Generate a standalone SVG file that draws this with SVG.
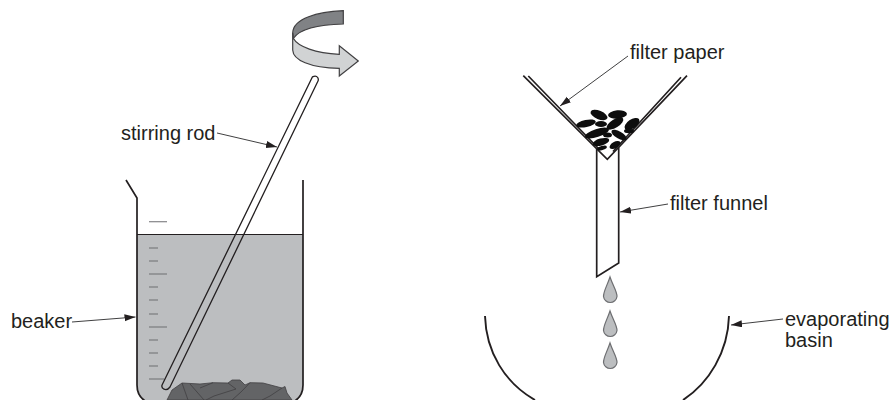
<svg xmlns="http://www.w3.org/2000/svg" width="889" height="400" viewBox="0 0 889 400">
<defs>
<marker id="ah" markerUnits="userSpaceOnUse" markerWidth="12" markerHeight="8" refX="11" refY="3.5" orient="auto"><path d="M0 0L11 3.500L0 7z" fill="#231f20"/></marker>
</defs>
<style>
text{font-family:"Liberation Sans",Arial,sans-serif;font-size:20px;fill:#231f20}
.ln{fill:none;stroke:#231f20;stroke-width:1.7}
.rodline{fill:none;stroke:#231f20;stroke-width:1.3}
.thin{fill:none;stroke:#231f20;stroke-width:1.2}
.basin{fill:none;stroke:#231f20;stroke-width:1.9}
.lead{fill:none;stroke:#404041;stroke-width:1;marker-end:url(#ah)}
.tick{stroke:#6d6e71;stroke-width:1.1;fill:none}
.rock{fill:#636466;stroke:#414042;stroke-width:.8}
.crack{fill:none;stroke:#414042;stroke-width:.8}
.seed{fill:#0d0d0d}
.drop{fill:#bcbec0;stroke:#6d6e71;stroke-width:1.2}
.dark{fill:#808285;stroke:#414042;stroke-width:1.2}
.light{fill:#d1d3d4;stroke:#414042;stroke-width:1.2}
</style>
<rect width="889" height="400" fill="#fff"/>
<g id="beaker">
<path d="M137 234.500H303V385Q303 398 291 403H149Q137 398 137 385Z" fill="#bcbec0"/>
<path class="ln" d="M126 180L137 198V385Q137 398 149 403M303 180V385Q303 398 291 403"/>
<path class="thin" d="M137 234.500H303"/>
<path class="tick" d="M149 221.700H167M149 248H158M149 261H158M149 274H167M149 287H158M149 300H158M149 314H158M149 327H167M149 340H158M149 353H158M149 366H158M149 379H164"/>
</g>
<g id="solid">
<path class="rock" d="M167 400L172 390L182 383L200 384L213 382.700L228 383L232 380L240 380L245 385L250 382.700L263 383L282 388L285 386.500L287 393L292 400Z"/>
<path class="crack" d="M182 383L188 400M190 384L204 400M213 382.700L200 388M228 383L236 389L214 396L206 400M250 382.700L241 392L232 400M282 388L270 396L262 400"/>
</g>
<g id="rod">
<path class="rodline" d="M312.500 76.800Q316 75 317.700 77.500Q318.800 79.500 318 81L170 387Q167.500 390.500 164 389.200Q160.800 387.500 162.300 384.500Z"/>
</g>
<g id="rotation-arrow">
<path class="dark" d="M343.300 10.700C318 12 293 18 292.700 33L293.300 38.300C300 29 320 24.500 343.300 24Z"/>
<path class="light" d="M292.700 33L293.300 38.300C298 47 316 53 339.300 54.300V45.700L358.300 61L339.300 76V68.300C310 68 293 60 292.700 50Z"/>
</g>
<g id="filter-funnel">
<path class="ln" d="M523.300 75.700L607.300 159.300L687 75.700"/>
<path class="ln" d="M528.300 76L600 150M681 77.300L613 151.500"/>
<path class="ln" d="M596.700 149V276.700L618.700 263V147.500"/>
</g>
<g id="residue" class="seed">
<ellipse cx="599" cy="115" rx="9" ry="4.200" transform="rotate(22 599 115)"/>
<ellipse cx="617.500" cy="114.500" rx="9.500" ry="4.200" transform="rotate(-5 617.500 114.500)"/>
<ellipse cx="586" cy="123.500" rx="10" ry="3.500" transform="rotate(-12 586 123.500)"/>
<ellipse cx="601" cy="124" rx="6" ry="3"/>
<ellipse cx="615" cy="123.500" rx="9.500" ry="4.200" transform="rotate(-32 615 123.500)"/>
<ellipse cx="632" cy="124" rx="8.500" ry="4.500" transform="rotate(-35 632 124)"/>
<ellipse cx="597" cy="133" rx="12.500" ry="4" transform="rotate(-18 597 133)"/>
<ellipse cx="607.500" cy="135" rx="4.500" ry="2.500"/>
<ellipse cx="619" cy="135" rx="8.500" ry="3.500" transform="rotate(30 619 135)"/>
<ellipse cx="629" cy="131" rx="5" ry="2.200"/>
<ellipse cx="601" cy="142" rx="8.500" ry="3.500" transform="rotate(-15 601 142)"/>
<ellipse cx="602" cy="148" rx="5" ry="2" transform="rotate(-15 602 148)"/>
<ellipse cx="615" cy="145" rx="6" ry="3.200" transform="rotate(-30 615 145)"/>
</g>
<g id="drops">
<path class="drop" d="M610 277C607 286 603.500 291 603.500 296.500A6.800 6.800 0 0 0 617 296.500C617 291 613 286 610 277Z"/>
<path class="drop" d="M610 311C607 320 603.500 325 603.500 330.500A6.800 6.800 0 0 0 617 330.500C617 325 613 320 610 311Z"/>
<path class="drop" d="M610 343C607 352 603.500 357 603.500 362.500A6.800 6.800 0 0 0 617 362.500C617 357 613 352 610 343Z"/>
</g>
<g id="evaporating-basin">
<path class="basin" d="M485 316C486 352 505 383 535 400M729 316C728 352 709 383 683 400"/>
</g>
<g id="connectors">
<path class="lead" d="M217 133L277 147"/>
<path class="lead" d="M72 322L135.500 317"/>
<path class="lead" d="M628 56L560 106"/>
<path class="lead" d="M668 204L620 212"/>
<path class="lead" d="M783 319L731 325"/>
</g>
<g id="labels">
<text x="121" y="140">stirring rod</text>
<text x="11" y="328">beaker</text>
<text x="630" y="58.500">filter paper</text>
<text x="670" y="209.500">filter funnel</text>
<text x="785" y="326">evaporating</text>
<text x="785" y="347">basin</text>
</g>
</svg>
